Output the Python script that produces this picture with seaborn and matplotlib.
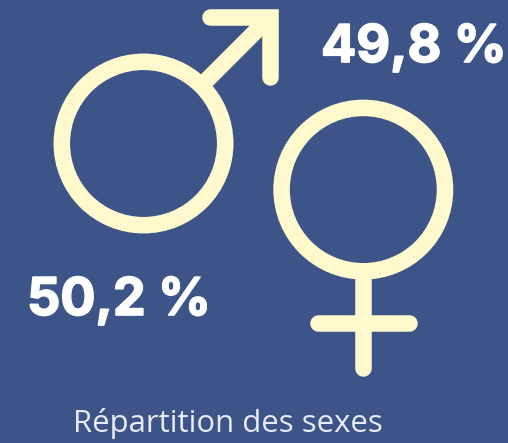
"""Répartition des sexes : symboles et pourcentages."""

import matplotlib
matplotlib.use("Agg")
import matplotlib.pyplot as plt
import matplotlib.patheffects as pe
import pandas as pd
import seaborn as sns
from matplotlib.patches import Circle

BG = "#3d5488"
SYMBOL = "#fff9cd"
STROKE = 11.9

sexes = ["Hommes", "Femmes"]
parts = [50.2, 49.8]
title = "Répartition des sexes"


def draw_stroke(ax, xs, ys, cap="round"):
    df = pd.DataFrame({"x": xs, "y": ys})
    sns.lineplot(data=df, x="x", y="y", ax=ax, color=SYMBOL, lw=STROKE, sort=False,
                 estimator=None, solid_capstyle=cap, solid_joinstyle="miter")


def fmt(v):
    return f"{v:.1f} %".replace(".", ",")


sns.set_theme(style="white")
plt.rcParams["font.family"] = ["Open Sans", "DejaVu Sans"]

fig = plt.figure(figsize=(5.08, 4.43), dpi=100, facecolor=BG)
ax = fig.add_axes([0, 0, 1, 1])
ax.set_facecolor(BG)

# symbole homme
ax.add_patch(Circle((143.5, 143.5), 81.7, fill=False, ec=SYMBOL, lw=STROKE))
draw_stroke(ax, [200, 268], [87, 19], cap="butt")
draw_stroke(ax, [210, 270, 270], [17, 17, 77])

# symbole femme
ax.add_patch(Circle((363.3, 189.6), 81.7, fill=False, ec=SYMBOL, lw=STROKE))
draw_stroke(ax, [363.3, 363.3], [272, 368])
draw_stroke(ax, [317.5, 409], [323, 323])

ax.set_xlim(0, 508)
ax.set_ylim(443, 0)
ax.axis("off")

# un peu plus gras que le bold de la police
heavy = [pe.withStroke(linewidth=1.2, foreground="white")]
ax.text(119, 315, fmt(parts[0]), color="white", fontsize=37.5, fontweight="bold",
        family="Inter", ha="center", va="baseline", path_effects=heavy)
ax.text(414, 62, fmt(parts[1]), color="white", fontsize=37.5, fontweight="bold",
        family="Inter", ha="center", va="baseline", path_effects=heavy)
ax.text(228, 432, title, color="#e8ebf2", fontsize=22.4, ha="center", va="baseline")

fig.savefig("out.png", dpi=100, facecolor=BG)
